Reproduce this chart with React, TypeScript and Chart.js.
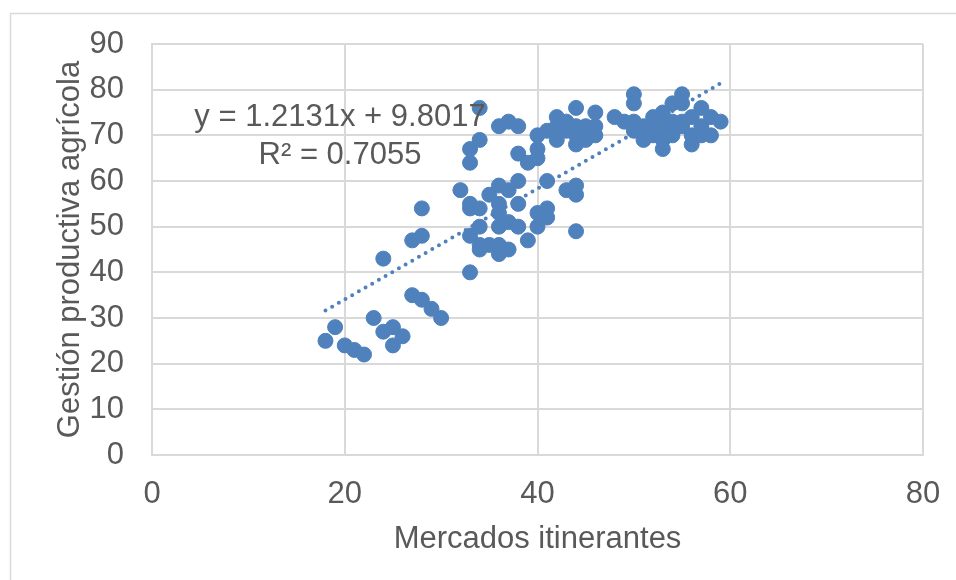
import React, { useEffect, useRef } from "react";
import { Chart, registerables } from "chart.js";

Chart.register(...registerables);

// Mercados itinerantes (x) values
const xValues: number[] = [
  18, 19, 20, 21, 22, 23, 24, 25, 25, 26, 24, 27, 28, 29, 30, 27, 28, 28, 33, 32,
  33, 33, 34, 33, 34, 34, 34, 35, 35, 36, 37, 38, 36, 36, 36, 37, 38, 38, 36, 36,
  37, 39, 40, 40, 41, 41, 41, 44, 43, 44, 44, 33, 33, 34, 34, 36, 37, 38, 38, 39,
  40, 40, 40, 41, 42, 42, 42, 43, 43, 44, 44, 44, 44, 45, 45, 46, 46, 46, 48, 49,
  50, 50, 50, 50, 51, 51, 52, 52, 52, 52, 53, 53, 53, 53, 54, 54, 54, 54, 55, 55,
  55, 55, 56, 56, 56, 57, 57, 57, 58, 58, 59,
];

// Gestión productiva agrícola (y) values
const yValues: number[] = [
  25, 28, 24, 23, 22, 30, 27, 28, 24, 26, 43, 35, 34, 32, 30, 47, 48, 54, 40, 58,
  55, 54, 54, 48, 50, 46, 45, 46, 57, 59, 58, 60, 55, 53, 50, 51, 55, 50, 46, 44,
  45, 47, 50, 53, 54, 52, 60, 49, 58, 59, 57, 64, 67, 69, 76, 72, 73, 72, 66, 64,
  65, 67, 70, 71, 74, 72, 69, 73, 71, 76, 72, 70, 68, 72, 69, 75, 72, 70, 74, 73,
  79, 77, 73, 71, 72, 69, 74, 73, 71, 70, 75, 72, 69, 67, 77, 73, 71, 70, 79, 77,
  73, 72, 74, 70, 68, 76, 72, 70, 74, 70, 73,
];

const xTickValues: number[] = [0, 20, 40, 60, 80];
const yTickValues: number[] = [0, 10, 20, 30, 40, 50, 60, 70, 80, 90];

const trendSlope = 1.2131;
const trendIntercept = 9.8017;
const equationLines: string[] = ["y = 1.2131x + 9.8017", "R² = 0.7055"];

const xTitle = "Mercados itinerantes";
const yTitle = "Gestión productiva agrícola";

const FONT = "'Liberation Sans', Arial, Helvetica, sans-serif";
const TEXT = "#595959";
const GRID = "#d9d9d9";
const BLUE = "#4f81bd";

export default function App() {
  const canvasRef = useRef<HTMLCanvasElement | null>(null);

  useEffect(() => {
    const canvas = canvasRef.current;
    if (!canvas) return;

    const points = xValues.map((x, i) => ({ x, y: yValues[i] }));
    const xmin = Math.min(...xValues);
    const xmax = Math.max(...xValues);
    const trend = [
      { x: xmin, y: trendSlope * xmin + trendIntercept },
      { x: xmax, y: trendSlope * xmax + trendIntercept },
    ];

    const framePlugin = {
      id: "frame",
      beforeDraw(chart: any) {
        const ctx = chart.ctx;
        ctx.save();
        ctx.fillStyle = "#ffffff";
        ctx.fillRect(0, 0, chart.width, chart.height);
        ctx.strokeStyle = GRID;
        ctx.lineWidth = 1.5;
        ctx.strokeRect(10.5, 13.5, chart.width + 20, chart.height + 20);
        ctx.restore();
      },
    };

    const equationPlugin = {
      id: "equation",
      afterDatasetsDraw(chart: any) {
        const ctx = chart.ctx;
        const area = chart.chartArea;
        ctx.save();
        ctx.fillStyle = TEXT;
        ctx.font = `31px ${FONT}`;
        ctx.textAlign = "center";
        ctx.textBaseline = "alphabetic";
        const cx = area.left + 188;
        ctx.fillText(equationLines[0], cx, area.top + 82);
        ctx.fillText(equationLines[1], cx, area.top + 120);
        ctx.restore();
      },
    };

    const chart = new Chart(canvas, {
      type: "scatter",
      data: {
        datasets: [
          {
            label: "trend",
            data: trend,
            showLine: true,
            borderColor: BLUE,
            borderWidth: 4,
            borderDash: [0, 7.7],
            borderCapStyle: "round",
            pointRadius: 0,
            fill: false,
          } as any,
          {
            label: "data",
            data: points,
            backgroundColor: BLUE,
            borderColor: BLUE,
            borderWidth: 1,
            pointRadius: 7.5,
            pointHoverRadius: 7.5,
          },
        ],
      },
      options: {
        animation: false,
        responsive: false,
        devicePixelRatio: 1,
        events: [],
        layout: { padding: { left: 0, top: 44, right: 33, bottom: 0 } },
        plugins: {
          legend: { display: false },
          tooltip: { enabled: false },
        },
        scales: {
          x: {
            type: "linear",
            min: 0,
            max: 80,
            afterBuildTicks: (s: any) => {
              s.ticks = xTickValues.map((v) => ({ value: v }));
            },
            afterFit: (s: any) => {
              s.height = 125;
              s.paddingLeft = 0;
              s.paddingRight = 0;
            },
            ticks: {
              font: { family: FONT, size: 31 },
              color: TEXT,
              padding: 21,
            },
            grid: { color: GRID, lineWidth: 2, drawTicks: false },
            border: { color: GRID, width: 2 },
            title: {
              display: true,
              text: xTitle,
              color: TEXT,
              font: { family: FONT, size: 31 },
              padding: { top: 0, bottom: 22 },
            },
          },
          y: {
            type: "linear",
            min: 0,
            max: 90,
            afterBuildTicks: (s: any) => {
              s.ticks = yTickValues.map((v) => ({ value: v }));
            },
            afterFit: (s: any) => {
              s.width = 152;
              s.paddingTop = 0;
              s.paddingBottom = 0;
            },
            ticks: {
              font: { family: FONT, size: 31 },
              color: TEXT,
              padding: 28,
            },
            grid: { color: GRID, lineWidth: 2, drawTicks: false },
            border: { color: GRID, width: 2 },
            title: {
              display: true,
              text: yTitle,
              color: TEXT,
              font: { family: FONT, size: 31 },
              padding: { top: 52, bottom: 0 },
            },
          },
        },
      } as any,
      plugins: [framePlugin, equationPlugin],
    });

    return () => chart.destroy();
  }, []);

  return (
    <div style={{ position: "fixed", left: 0, top: 0, width: 956, height: 580, background: "#fff" }}>
      <canvas ref={canvasRef} width={956} height={580} style={{ display: "block", width: 956, height: 580 }} />
    </div>
  );
}
